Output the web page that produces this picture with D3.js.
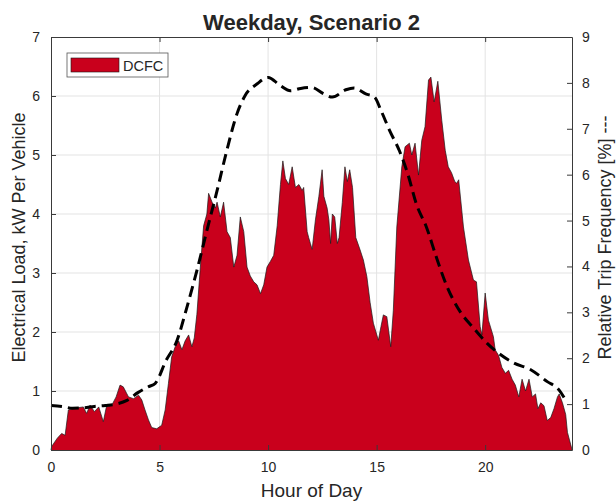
<!DOCTYPE html>
<html>
<head>
<meta charset="utf-8">
<script src="https://cdn.jsdelivr.net/npm/d3@7"></script>
<style>
  body { margin: 0; background: #fff; }
  text { font-family: "Liberation Sans", Arial, sans-serif; fill: #262626; }
</style>
</head>
<body>
<div id="chart"></div>
<script>
// ---- data ----
const loadHours = [0,0.03,0.29,0.49,0.65,0.8,1.1,1.49,1.64,1.8,2.0,2.2,2.41,2.55,2.8,3.0,3.18,3.33,3.57,3.8,
  4.03,4.18,4.33,4.49,4.64,4.87,5.1,5.26,5.41,5.56,5.72,5.88,6.03,6.18,6.34,6.49,6.6,6.72,6.88,7.03,
  7.18,7.26,7.42,7.57,7.65,7.8,7.95,8.11,8.26,8.42,8.57,8.72,8.88,9.03,9.18,9.34,9.49,9.65,9.8,9.95,
  10.11,10.26,10.42,10.57,10.68,10.8,10.95,11.11,11.26,11.42,11.57,11.64,11.8,11.87,11.95,12.03,12.18,12.26,12.34,12.49,
  12.57,12.72,12.8,12.88,12.96,13.07,13.19,13.27,13.42,13.54,13.65,13.76,13.89,14.04,14.24,14.39,14.55,14.7,14.85,15.08,
  15.2,15.31,15.47,15.65,15.77,15.93,16.16,16.31,16.51,16.62,16.77,16.93,17.08,17.23,17.39,17.5,17.65,17.82,18.0,18.16,
  18.3,18.45,18.6,18.69,18.78,19.0,19.23,19.46,19.6,19.77,19.85,20.0,20.15,20.38,20.46,20.62,20.77,20.93,21.08,21.24,
  21.39,21.55,21.7,21.86,22.02,22.17,22.32,22.43,22.56,22.71,22.86,23.02,23.17,23.33,23.41,23.56,23.71,23.79,23.97,24];
const loadKW = [0,0.06,0.2,0.28,0.25,0.68,0.71,0.73,0.62,0.76,0.65,0.73,0.48,0.73,0.76,0.9,1.1,1.07,0.9,0.87,
  0.93,0.85,0.68,0.51,0.38,0.36,0.42,0.68,1.13,1.58,1.75,1.85,1.7,1.85,1.95,1.75,1.9,2.3,3.1,3.8,
  4.0,4.35,4.2,4.1,4.2,3.95,4.2,3.7,3.6,3.1,3.3,3.95,3.7,3.1,2.95,2.85,2.8,2.65,2.8,3.1,
  3.2,3.3,3.8,4.5,4.9,4.6,4.5,4.8,4.45,4.5,4.4,4.45,3.7,3.6,3.5,3.4,3.9,4.1,4.3,4.75,
  4.3,4.1,3.9,3.5,4.0,3.95,3.5,3.6,4.2,4.8,4.55,4.75,4.45,3.6,3.39,3.22,2.94,2.5,2.15,1.86,
  2.09,2.29,2.26,1.75,2.37,3.78,4.8,5.14,5.2,5.0,5.2,4.66,5.25,5.48,6.27,6.32,5.9,6.25,5.59,5.08,
  4.8,4.7,4.55,4.52,4.58,3.78,3.22,2.88,2.85,2.09,1.95,2.66,2.2,1.92,1.7,1.6,1.4,1.3,1.35,1.2,
  1.1,0.9,1.2,1.0,1.2,0.9,0.95,0.7,0.8,0.75,0.5,0.55,0.7,0.9,0.95,0.8,0.6,0.3,0.05,0];

const tripHours = [0,0.5,1,1.5,2,2.5,3,3.5,4,4.5,4.8,5.3,5.8,6.26,6.72,7.18,7.65,8.1,8.57,8.95,
  9.5,10,10.57,11.03,11.5,12,12.57,12.96,13.58,13.96,14.5,14.9,15.2,15.6,16.05,16.44,16.83,17.3,17.76,18.2,
  18.84,19.46,20.08,20.7,21.3,22.1,22.86,23.4,23.7];
const tripPct = [0.97,0.95,0.91,0.92,0.95,0.97,1.0,1.08,1.25,1.38,1.45,1.95,2.38,3.11,3.91,4.78,5.65,6.53,7.33,7.73,
  7.98,8.12,7.94,7.83,7.88,7.9,7.76,7.69,7.85,7.89,7.76,7.69,7.4,6.96,6.52,6.01,5.36,4.85,4.19,3.61,
  3.02,2.66,2.33,2.08,1.9,1.75,1.49,1.31,1.09];

const xTicks = [0, 5, 10, 15, 20];
const leftTicks = [0, 1, 2, 3, 4, 5, 6, 7];
const rightTicks = [0, 1, 2, 3, 4, 5, 6, 7, 8, 9];
const seriesName = 'DCFC';

// ---- layout ----
const W = 616, H = 504;
const margin = { top: 37, right: 44, bottom: 54, left: 51 };
const width = W - margin.left - margin.right;
const height = H - margin.top - margin.bottom;
const axisColor = '#3a3a3a';
const fillColor = '#c9001c';

const svg = d3.select('#chart').append('svg')
  .attr('width', W).attr('height', H);
const g = svg.append('g').attr('transform', `translate(${margin.left},${margin.top})`);

const x = d3.scaleLinear().domain([0, 24]).range([0, width]);
const yL = d3.scaleLinear().domain([0, 7]).range([height, 0]);
const yR = d3.scaleLinear().domain([0, 9]).range([height, 0]);
const fmt = d3.format('d');

// grid
g.append('g').selectAll('line').data(xTicks.slice(1)).join('line')
  .attr('x1', d => x(d)).attr('x2', d => x(d))
  .attr('y1', 0).attr('y2', height)
  .attr('stroke', '#e3e3e3').attr('stroke-width', 1);
g.append('g').selectAll('line').data(leftTicks.slice(1, -1)).join('line')
  .attr('x1', 0).attr('x2', width)
  .attr('y1', d => yL(d)).attr('y2', d => yL(d))
  .attr('stroke', '#e3e3e3').attr('stroke-width', 1);

// area
const loadData = loadHours.map((h, i) => ({ h: h, v: loadKW[i] }));
const area = d3.area().x(d => x(d.h)).y0(yL(0)).y1(d => yL(d.v));
const edge = d3.line().x(d => x(d.h)).y(d => yL(d.v));
g.append('path').datum(loadData).attr('d', area).attr('fill', fillColor);
g.append('path').datum(loadData).attr('d', edge)
  .attr('fill', 'none').attr('stroke', '#1a1a1a').attr('stroke-width', 0.7);

// trip frequency dashed line
const tripData = tripHours.map((h, i) => ({ h: h, v: tripPct[i] }));
const tripLine = d3.line().curve(d3.curveMonotoneX).x(d => x(d.h)).y(d => yR(d.v));
g.append('path').datum(tripData).attr('d', tripLine)
  .attr('fill', 'none').attr('stroke', '#000').attr('stroke-width', 3)
  .attr('stroke-dasharray', '11,6');

// axes (ticks inside, like MATLAB)
const tickLen = 5;
function styleAxis(sel) {
  sel.select('.domain').attr('stroke', axisColor).attr('stroke-width', 1);
  sel.selectAll('.tick line').attr('stroke', axisColor);
  sel.selectAll('.tick text').attr('fill', '#262626')
    .style('font-size', '14px').style('font-family', '"Liberation Sans", Arial, sans-serif');
}
g.append('g').attr('transform', `translate(0,${height})`)
  .call(d3.axisBottom(x).tickValues(xTicks).tickFormat(fmt).tickSizeInner(-tickLen).tickSizeOuter(0).tickPadding(12))
  .call(styleAxis);
g.append('g')
  .call(d3.axisTop(x).tickValues(xTicks).tickSizeInner(-tickLen).tickSizeOuter(0).tickFormat(''))
  .call(styleAxis);
g.append('g')
  .call(d3.axisLeft(yL).tickValues(leftTicks).tickFormat(fmt).tickSizeInner(-tickLen).tickSizeOuter(0).tickPadding(11))
  .call(styleAxis);
g.append('g').attr('transform', `translate(${width},0)`)
  .call(d3.axisRight(yR).tickValues(rightTicks).tickFormat(fmt).tickSizeInner(-tickLen).tickSizeOuter(0).tickPadding(10))
  .call(styleAxis);

// title and labels
svg.append('text').attr('x', margin.left + width / 2).attr('y', 30)
  .attr('text-anchor', 'middle').style('font-size', '22px').style('font-weight', 'bold')
  .attr('fill', '#000').text('Weekday, Scenario 2');
svg.append('text').attr('x', margin.left + width / 2).attr('y', 497)
  .attr('text-anchor', 'middle').style('font-size', '19px').text('Hour of Day');
svg.append('text').attr('transform', `translate(25,${margin.top + height / 2 - 6}) rotate(-90)`)
  .attr('text-anchor', 'middle').style('font-size', '18px').text('Electrical Load, kW Per Vehicle');
svg.append('text').attr('transform', `translate(611,${margin.top + height / 2 - 6}) rotate(-90)`)
  .attr('text-anchor', 'middle').style('font-size', '18px').text('Relative Trip Frequency [%] ---');

// legend
const leg = g.append('g').attr('transform', `translate(${67 - margin.left},${53 - margin.top})`);
leg.append('rect').attr('width', 101).attr('height', 24)
  .attr('fill', '#fff').attr('stroke', '#555').attr('stroke-width', 0.8);
leg.append('rect').attr('x', 4).attr('y', 5).attr('width', 48).attr('height', 14)
  .attr('fill', fillColor).attr('stroke', '#1a1a1a').attr('stroke-width', 0.6);
leg.append('text').attr('x', 56).attr('y', 18)
  .style('font-size', '14.5px').text(seriesName);
</script>
</body>
</html>
